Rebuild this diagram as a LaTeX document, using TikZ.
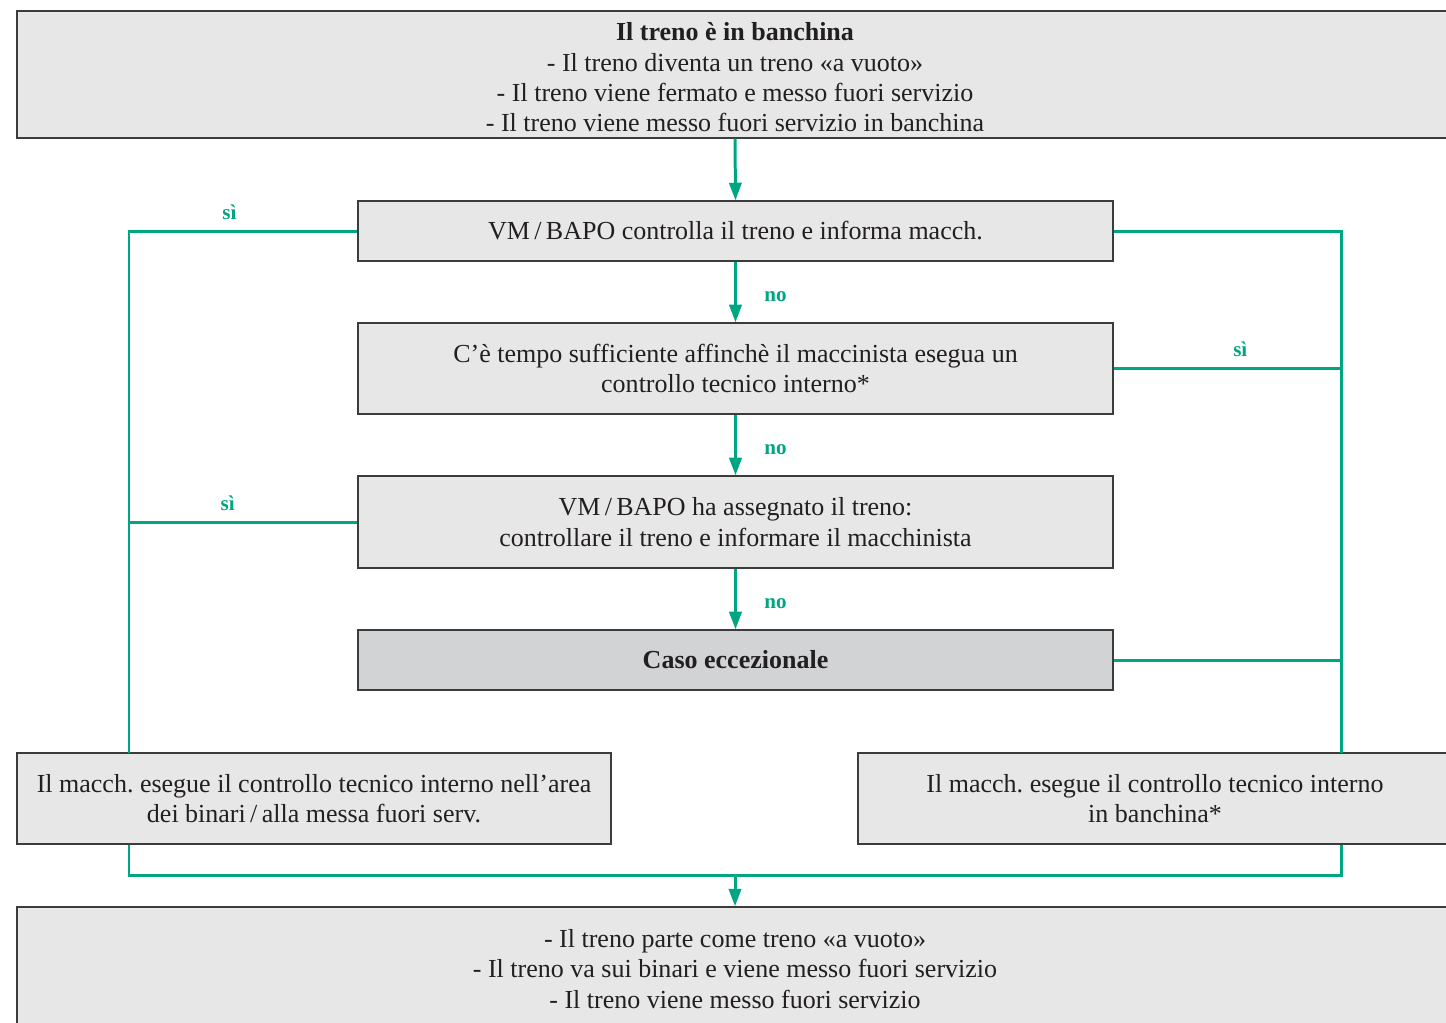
\documentclass[tikz,border=0pt]{standalone}
\usepackage{fontspec}
\setmainfont{Liberation Serif}
\usepackage{tikz}
\usetikzlibrary{shapes,arrows.meta,positioning}
\definecolor{flowgreen}{RGB}{0,166,130}
\definecolor{boxgray}{RGB}{230,231,230}
\definecolor{darkgray}{RGB}{210,211,213}
\definecolor{linegray}{RGB}{60,60,60}
\definecolor{textgray}{RGB}{35,31,32}
\frenchspacing

\begin{document}
\begin{tikzpicture}[x=0.02cm, y=-0.02cm, every node/.style = {align = center, text = textgray, font = \fontsize{14.8}{17.3}\selectfont},box/.style = {shape = rectangle, draw = linegray, line width = 0.8pt, fill = boxgray, inner sep = 0pt},answer/.style = {text = flowgreen, inner sep = 0pt, font = \fontsize{12}{14}\selectfont\bfseries},green edge/.style  = { -, line width = 1.7pt, flowgreen},green arrow/.style = {green edge, -{Triangle[length=10pt,width=7pt]}}]
\clip (0,0) rectangle (1446,1022);
\node[box, minimum width = 28.72cm, minimum height = 2.54cm] (0;0) at (735,74.5) {\rule{0pt}{13.6pt}\textbf{Il treno è in banchina} \\ - Il treno diventa un treno «a vuoto» \\ - Il treno viene fermato e messo fuori servizio \\ - Il treno viene messo fuori servizio in banchina};
  \node[box, minimum width = 15.1cm, minimum height = 1.2cm] (1;0) at (735.5,231) {VM\,/\,BAPO controlla il treno e informa macch.};
  \node[box, minimum width = 15.1cm, minimum height = 1.82cm] (2;0) at (735.5,368.5) {C’è tempo sufficiente affinchè il maccinista esegua un \\ controllo tecnico interno*};
  \node[box, minimum width = 15.1cm, minimum height = 1.84cm] (3;0) at (735.5,522) {VM\,/\,BAPO ha assegnato il treno: \\ controllare il treno e informare il macchinista};
  \node[box, fill = darkgray, minimum width = 15.1cm, minimum height = 1.2cm] (4;0) at (735.5,660) {\textbf{Caso eccezionale}};
  \node[box, minimum width = 11.88cm, minimum height = 1.82cm] (5;-1) at (314,798.5) {Il macch. esegue il controllo tecnico interno nell’area \\ dei binari\,/\,alla messa fuori serv.};
  \node[box, minimum width = 11.88cm, minimum height = 1.82cm] (5;1) at (1155,798.5) {Il macch. esegue il controllo tecnico interno \\ in banchina*};
  \node[box, minimum width = 28.72cm, minimum height = 2.48cm] (6;0) at (735,969) {- Il treno parte come treno «a vuoto» \\ - Il treno va sui binari e viene messo fuori servizio \\ - Il treno viene messo fuori servizio};

\coordinate (sx) at (129,753);
\coordinate (dx) at (1341,753);
\coordinate (jn) at (735,875);

\draw[green arrow] (0;0.south) -- (1;0.north);
\foreach \j/\k in {1/2,2/3,3/4}
  { \draw[green arrow] (\j;0.south) -- node[answer, midway, right = 0.55cm, yshift = -2.5pt] {no} (\k;0.north); }
\draw[green edge] (1;0.west) -| node[answer, pos = 0.28, above = 0.2cm] {sì} (sx);
\draw[green edge] (3;0.west) -- node[answer, pos = 0.568, above = 0.2cm] {sì} (3;0.west -| sx);
\draw[green edge] (1;0.east) -| (dx);
\draw[green edge] (2;0.east) -- node[answer, pos = 0.557, above = 0.2cm] {sì} (2;0.east -| dx);
\draw[green edge] (4;0.east) -- (4;0.east -| dx);
\draw[green edge] (5;-1.south -| sx) |- (jn) -| (5;1.south -| dx);
\draw[green arrow] (jn) -- (6;0.north);

\end{tikzpicture}
\end{document}
